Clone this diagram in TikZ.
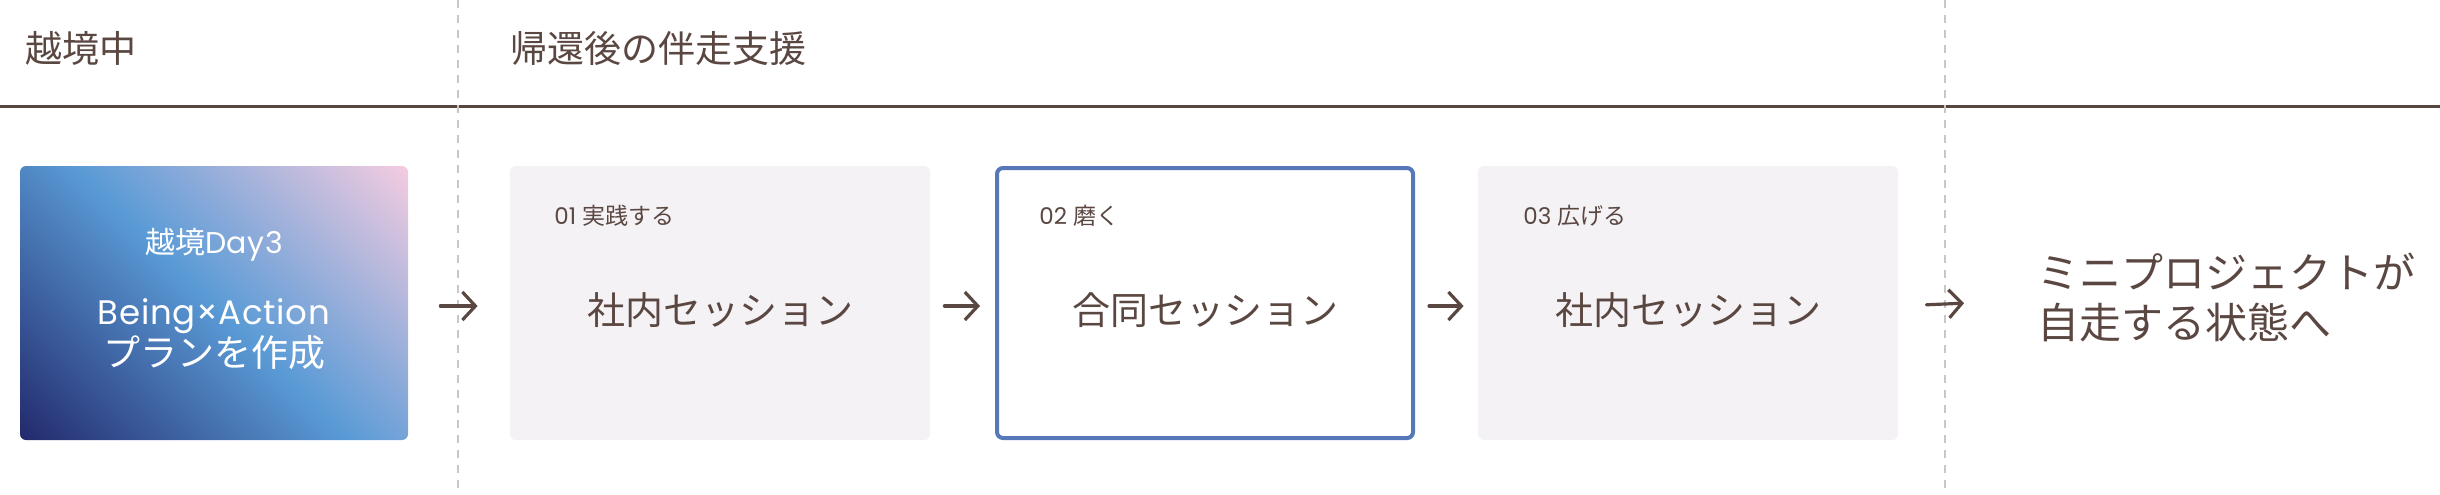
\documentclass[tikz,border=0pt]{standalone}
\usepackage{fontspec}
\setmainfont{Poppins}
\newfontfamily\jpfont{Noto Sans CJK JP}
\newfontfamily\spacedfont[LetterSpace=2]{Poppins}
\usetikzlibrary{arrows.meta, positioning, calc}

\definecolor{textbrown}{HTML}{5B4741}
\definecolor{rulebrown}{HTML}{574540}
\definecolor{boxfill}{HTML}{F4F2F5}
\definecolor{borderblue}{HTML}{5677B8}
\definecolor{dividergray}{HTML}{C8C8C8}
\definecolor{gradnavy}{HTML}{232B6E}
\definecolor{gradblue}{HTML}{5A9BD6}
\definecolor{gradpink}{HTML}{F2CBE0}

\pgfdeclareverticalshading{dayshade}{100bp}{color(0bp)=(gradnavy); color(15bp)=(gradnavy); color(50bp)=(gradblue); color(85bp)=(gradpink); color(100bp)=(gradpink)}

\begin{document}
\begin{tikzpicture}[
		x=0.5pt, y=-0.5pt,
		every node/.style={text=textbrown, inner sep=0pt},
		phase/.style={font=\jpfont\fontsize{18.5pt}{22pt}\selectfont, anchor=west},
		daybox/.style={minimum width=194pt, minimum height=137pt, rounded corners=3pt, shading=dayshade, shading angle=-45},
		sessionbox/.style={minimum width=210pt, minimum height=137pt, rounded corners=3pt, fill=boxfill},
		focusbox/.style={sessionbox, fill=white, draw=borderblue, line width=2pt, minimum width=208pt, minimum height=135pt},
		steplabel/.style={font=\fontsize{11.5pt}{13pt}\selectfont, anchor=west},
		sessiontext/.style={font=\jpfont\fontsize{19pt}{23pt}\selectfont},
		flowarrow/.style={-{Straight Barb[length=6.5pt, width=14pt]}, line width=1.6pt, draw=textbrown, line cap=round},
		divider/.style={draw=dividergray, line width=0.75pt, dash pattern=on 4pt off 3.5pt}
		]
		\useasboundingbox (0,0) rectangle (2440,494);
		
		% Phases
		\node[phase] (during) at (25,48) {越境中};
		\node[phase] (after) at (510,48) {帰還後の伴走支援};
		\draw[rulebrown, line width=1.5pt] (0,106) -- (2440,106);
		\draw[divider] (458,0) -- (458,494);
		\draw[divider] (1945,0) -- (1945,494);
		
		% Boxes
		\node[daybox] (b1) at (214,303) {};
		\node[text=white, font=\spacedfont\fontsize{15pt}{17pt}\selectfont] (d1) at (214,245) {{\jpfont 越境}Day3};
		\node[text=white, align=center, font=\spacedfont\fontsize{17pt}{19pt}\selectfont] (d2) at (214,334) {Being×Action\\{\jpfont\fontsize{18.5pt}{19pt}\selectfont プランを作成}};
		
		\node[sessionbox] (s1) at (720,303) {};
		\node[steplabel] (l1) at (554,216) {01 {\jpfont 実践する}};
		\node[sessiontext] (t1) at (720,310) {社内セッション};
		
		\node[focusbox] (s2) at (1205,303) {};
		\node[steplabel] (l2) at (1039,216) {02 {\jpfont 磨く}};
		\node[sessiontext] (t2) at (1205,310) {合同セッション};
		
		\node[sessionbox] (s3) at (1688,303) {};
		\node[steplabel] (l3) at (1523,216) {03 {\jpfont 広げる}};
		\node[sessiontext] (t3) at (1688,310) {社内セッション};
		
		\node[anchor=west, align=left, font=\jpfont\fontsize{21pt}{25pt}\selectfont] (goal) at (2037,297) {ミニプロジェクトが\\自走する状態へ};
		
		% Flow
		\draw[flowarrow, shorten <=16pt, shorten >=16pt] ([yshift=-1.5pt]b1.east) -- ([yshift=-1.5pt]s1.west);
		\draw[flowarrow, shorten <=7pt, shorten >=7.5pt] ([yshift=-1.5pt]s1.east) -- ([yshift=-1.5pt]s2.west);
		\draw[flowarrow, shorten <=7pt, shorten >=7pt] ([yshift=-1.5pt]s2.east) -- ([yshift=-1.5pt]s3.west);
		\draw[flowarrow, shorten <=14pt, shorten >=36.5pt] ([yshift=-1.5pt]s3.east) -- ([yshift=-1.5pt]goal.west);
		
	\end{tikzpicture}
\end{document}
